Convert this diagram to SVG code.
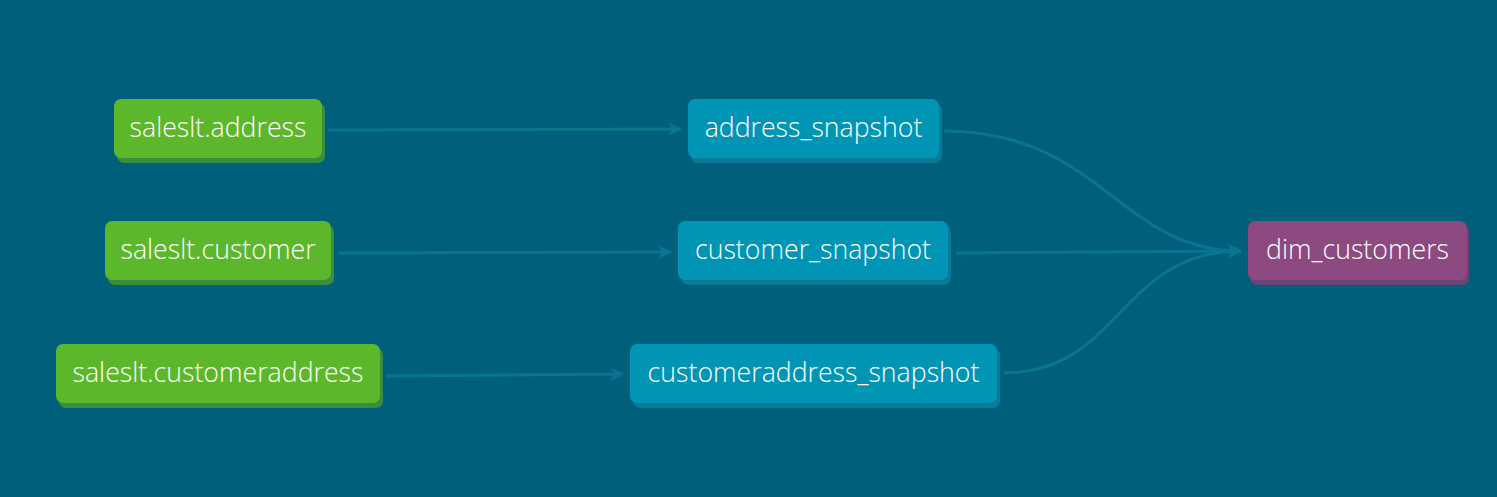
<svg xmlns="http://www.w3.org/2000/svg" width="1497" height="497" viewBox="0 0 1497 497">
<style>
.t{font-family:"Open Sans","Noto Sans",sans-serif;font-size:26.7px;font-weight:300;fill:#ffffff;text-anchor:middle}
.e{fill:none;stroke:#0a7593;stroke-width:3}
.src rect.b{fill:#5cb82a}.src rect.s{fill:#3c8c3e}
.snap rect.b{fill:#0095b5}.snap rect.s{fill:#0b7a98}
.dim rect.b{fill:#8c4a80}.dim rect.s{fill:#6b4476}
</style>
<defs>
<marker id="ah" viewBox="0 0 14 14" refX="13" refY="7" markerWidth="14" markerHeight="14" markerUnits="userSpaceOnUse" orient="auto">
<path d="M0,0 L14,7 L0,14 L4,7 Z" fill="#0a7593"/>
</marker>
</defs>
<rect width="1497" height="497" fill="#005f7a"/>
<g id="connectors">
<path class="e" d="M328,130 L681,129" marker-end="url(#ah)"/>
<path class="e" d="M338,253 L671,252" marker-end="url(#ah)"/>
<path class="e" d="M386,376 L623,374" marker-end="url(#ah)"/>
<path class="e" d="M944,131 C1100,131 1120,251 1241,251" marker-end="url(#ah)"/>
<path class="e" d="M956,253 L1241,251" marker-end="url(#ah)"/>
<path class="e" d="M1004,373 C1120,373 1120,251 1241,251" marker-end="url(#ah)"/>
</g>
<g id="n_address" class="src"><rect class="s" x="117" y="103" width="208" height="60" rx="7"/><rect class="b" x="114" y="99" width="208" height="59" rx="7"/><text class="t" x="218" y="137">saleslt.address</text></g>
<g id="n_customer" class="src"><rect class="s" x="108" y="225" width="226" height="60" rx="7"/><rect class="b" x="105" y="221" width="226" height="59" rx="7"/><text class="t" x="218" y="259">saleslt.customer</text></g>
<g id="n_customeraddress" class="src"><rect class="s" x="59" y="348" width="324" height="60" rx="7"/><rect class="b" x="56" y="344" width="324" height="59" rx="7"/><text class="t" x="218" y="382">saleslt.customeraddress</text></g>
<g id="n_address_snapshot" class="snap"><rect class="s" x="691" y="103" width="251" height="60" rx="7"/><rect class="b" x="688" y="99" width="251" height="59" rx="7"/><text class="t" x="813.5" y="137">address_snapshot</text></g>
<g id="n_customer_snapshot" class="snap"><rect class="s" x="681" y="225" width="270" height="60" rx="7"/><rect class="b" x="678" y="221" width="270" height="59" rx="7"/><text class="t" x="813" y="259">customer_snapshot</text></g>
<g id="n_customeraddress_snapshot" class="snap"><rect class="s" x="633" y="348" width="367" height="60" rx="7"/><rect class="b" x="630" y="344" width="367" height="59" rx="7"/><text class="t" x="813.5" y="382">customeraddress_snapshot</text></g>
<g id="n_dim_customers" class="dim"><rect class="s" x="1250" y="225" width="219" height="60" rx="7"/><rect class="b" x="1248" y="221" width="219" height="59" rx="7"/><text class="t" x="1357.5" y="259">dim_customers</text></g>
</svg>
